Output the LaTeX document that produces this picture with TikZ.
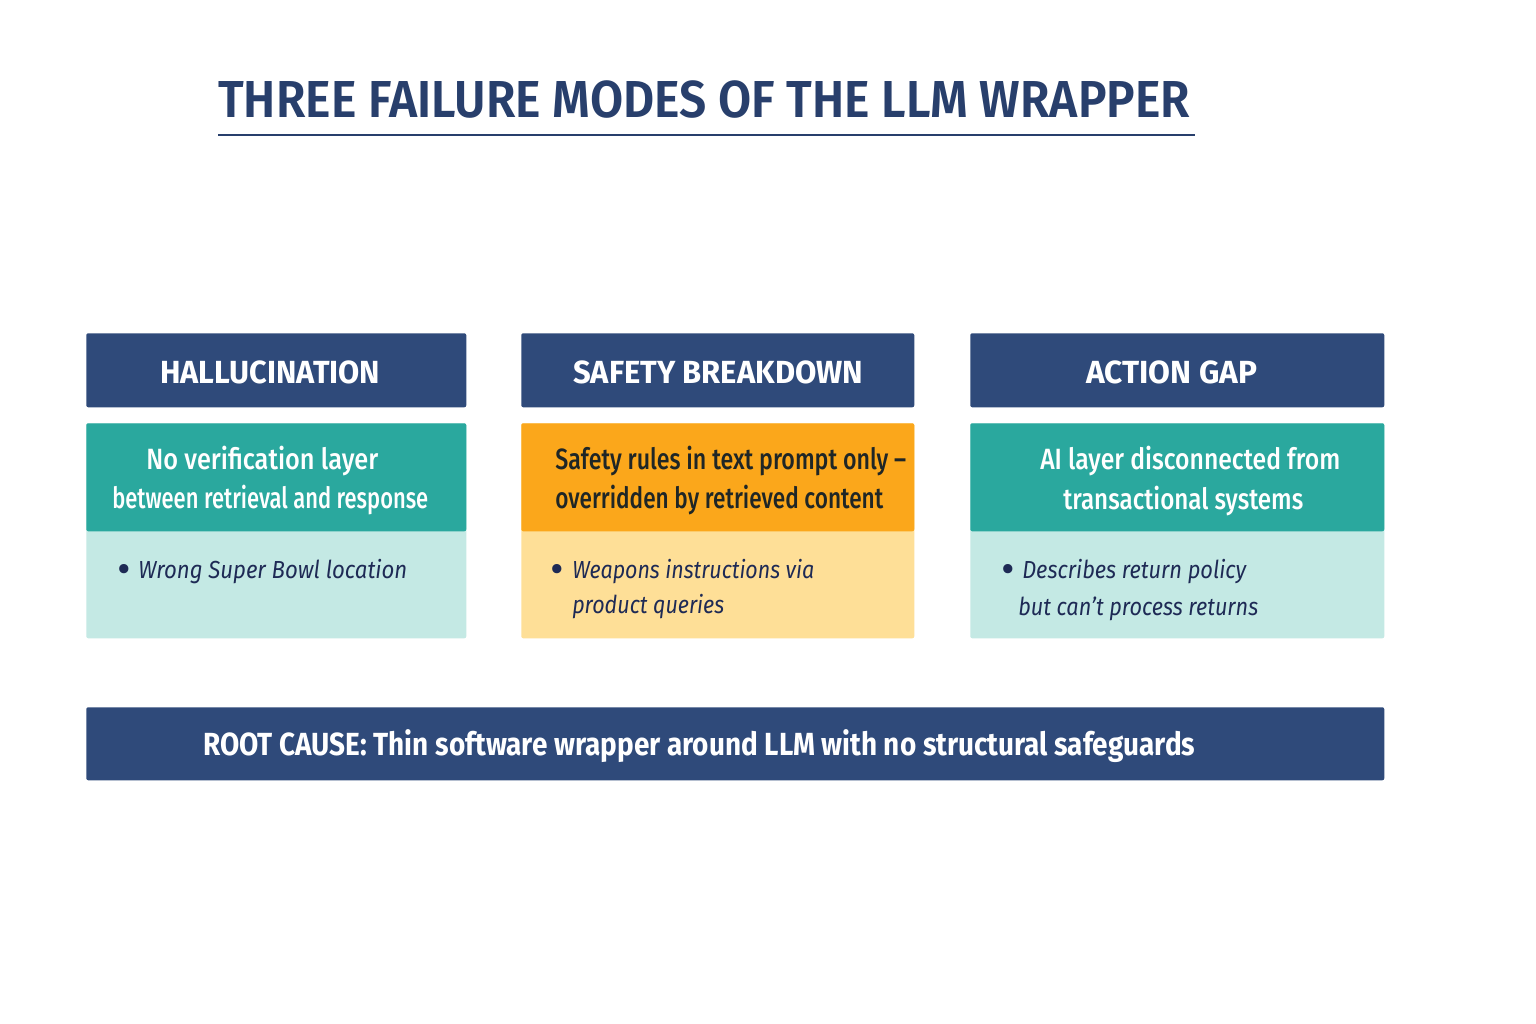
\documentclass[tikz,border=0pt]{standalone}
\usepackage{fontspec}
\usepackage{graphicx}
\setmainfont{Fira Sans}
\newfontfamily\fmed{Fira Sans Medium}
\newfontfamily\fsemi{Fira Sans SemiBold}
\definecolor{cNavy}{HTML}{2F4A7A}
\definecolor{cTitle}{HTML}{283F6C}
\definecolor{cTeal}{HTML}{2AA89E}
\definecolor{cTealL}{HTML}{C4E9E4}
\definecolor{cOrange}{HTML}{FBA71B}
\definecolor{cOrangeL}{HTML}{FEDF97}
\definecolor{cDark}{HTML}{1F2626}
\definecolor{cBullet}{HTML}{1E2A55}
\newcommand\fw[2]{\resizebox{#1pt}{\height}{#2}}
\tikzset{
  box/.style={rectangle, rounded corners=1.5pt, inner sep=0pt, anchor=north west, draw=none},
  txt/.style={inner sep=0pt, anchor=base west},
  bul/.style={inner sep=0pt, anchor=base, text=cBullet, font=\bfseries\fontsize{25}{26}\selectfont},
  head/.style={txt, text=white},
}
\begin{document}
\begin{tikzpicture}[x=0.75pt,y=-0.75pt]
\useasboundingbox[fill=white] (0,0) rectangle (1536,1024);

% title
\node[txt, text=cTitle] (title) at (218,118) {\fw{729}{\fsemi\fontsize{39}{40}\selectfont THREE FAILURE MODES OF THE LLM WRAPPER}};
\coordinate (ulA) at (218,135);
\coordinate (ulB) at (1195,135);
\draw[cTitle, line width=1.5pt] (ulA) -- (ulB);

% headers
\node[box, fill=cNavy, minimum width=285pt, minimum height=55.5pt] (h1) at (86,333) {};
\node[box, fill=cNavy, minimum width=294.75pt, minimum height=55.5pt] (h2) at (521,333) {};
\node[box, fill=cNavy, minimum width=310.5pt, minimum height=55.5pt] (h3) at (970,333) {};

\node[head] (h1t) at (160,383) {\fw{165}{\bfseries\fontsize{24}{26}\selectfont HALLUCINATION}};
\node[head] (h2t) at (573,383) {\fw{217.5}{\bfseries\fontsize{24}{26}\selectfont SAFETY BREAKDOWN}};
\node[head] (h3t) at (1086,383) {\fw{128.25}{\bfseries\fontsize{24}{26}\selectfont ACTION GAP}};

% body boxes
\node[box, fill=cTealL, minimum width=285pt, minimum height=161.25pt] (b1) at (86,423) {};
\node[box, fill=cTeal, minimum width=285pt, minimum height=81pt] (t1) at (86,423) {};
\node[box, fill=cOrangeL, minimum width=294.75pt, minimum height=161.25pt] (b2) at (521,423) {};
\node[box, fill=cOrange, minimum width=294.75pt, minimum height=81pt] (t2) at (521,423) {};
\node[box, fill=cTealL, minimum width=310.5pt, minimum height=161.25pt] (b3) at (970,423) {};
\node[box, fill=cTeal, minimum width=310.5pt, minimum height=81pt] (t3) at (970,423) {};

% top texts
\node[txt, text=white] (t1a) at (146,469) {\fw{174}{\fmed\fontsize{22}{24}\selectfont No verification layer}};
\node[txt, text=white] (t1b) at (112,508) {\fw{237}{\fmed\fontsize{22}{24}\selectfont between retrieval and response}};
\node[txt, text=cDark] (t2a) at (555,469) {\fw{263.25}{\fmed\fontsize{22}{24}\selectfont Safety rules in text prompt only –}};
\node[txt, text=cDark] (t2b) at (555,508) {\fw{246}{\fmed\fontsize{22}{24}\selectfont overridden by retrieved content}};
\node[txt, text=white] (t3a) at (1040,469) {\fw{225}{\fmed\fontsize{22}{24}\selectfont AI layer disconnected from}};
\node[txt, text=white] (t3b) at (1063,509) {\fw{180}{\fmed\fontsize{22}{24}\selectfont transactional systems}};

% bullets
\node[bul] (u1) at (124,580) {•};
\node[txt, text=cBullet] (u1a) at (138,578) {\fw{201.75}{\itshape\fontsize{18.5}{20}\selectfont Wrong Super Bowl location}};
\node[bul] (u2) at (557,580) {•};
\node[txt, text=cBullet] (u2a) at (572,578) {\fw{181.5}{\itshape\fontsize{18.5}{20}\selectfont Weapons instructions via}};
\node[txt, text=cBullet] (u2b) at (572,613) {\fw{114}{\itshape\fontsize{18.5}{20}\selectfont product queries}};
\node[bul] (u3) at (1008,580) {•};
\node[txt, text=cBullet] (u3a) at (1022,578) {\fw{168}{\itshape\fontsize{18.5}{20}\selectfont Describes return policy}};
\node[txt, text=cBullet] (u3b) at (1018,615) {\fw{180}{\itshape\fontsize{18.5}{20}\selectfont but can’t process returns}};

% root cause
\node[box, fill=cNavy, minimum width=973.5pt, minimum height=54.75pt] (root) at (86,707) {};
\node[head] (roott) at (203,755) {\fw{744}{\bfseries\fontsize{24}{26}\selectfont ROOT CAUSE: Thin software wrapper around LLM with no structural safeguards}};
\end{tikzpicture}
\end{document}
